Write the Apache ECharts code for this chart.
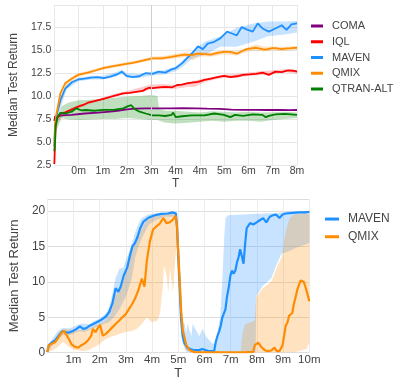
<!DOCTYPE html>
<html>
<head>
<meta charset="utf-8">
<script src="https://cdn.jsdelivr.net/npm/echarts@6/dist/echarts.min.js"></script>
<style>
html,body{margin:0;padding:0;background:#fff;}
#chart{width:397px;height:381px;}
</style>
</head>
<body>
<div id="chart"></div>
<script>
// ---------- tick labels ----------
const topTickLabels = ['', '0m', '1m', '2m', '3m', '4m', '4m', '5m', '6m', '7m', '8m'];
const botTickLabels = ['', '1m', '2m', '3m', '4m', '5m', '6m', '7m', '8m', '9m', '10m'];
const topLegend = ['COMA', 'IQL', 'MAVEN', 'QMIX', 'QTRAN-ALT'];
const botLegend = ['MAVEN', 'QMIX'];

// ---------- top chart: median lines [x, y] ----------
const comaTop = [[0,7.3],[0.03,7.75],[0.1,7.85],[0.3,7.9],[0.7,7.95],[1.25,8.1],[1.8,8.2],[2.3,8.3],[2.6,8.4],[3.0,8.55],[3.3,8.62],[3.8,8.65],[4.3,8.66],[4.8,8.66],[5.3,8.68],[5.8,8.65],[6.3,8.62],[6.8,8.6],[7.3,8.52],[7.8,8.5],[8.3,8.5],[8.8,8.48],[9.3,8.5],[9.7,8.47],[10,8.48]];
const iqlTop = [[0,2.6],[0.05,6.66],[0.12,7.57],[0.25,8.1],[0.45,8.23],[0.72,8.55],[0.98,8.84],[1.25,9.1],[1.38,9.27],[1.65,9.45],[1.9,9.6],[2.1,9.75],[2.31,9.9],[2.58,10.1],[2.84,10.3],[3.1,10.35],[3.37,10.45],[3.64,10.55],[3.77,10.75],[3.9,10.9],[4.04,10.85],[4.3,10.95],[4.57,11.0],[4.86,10.95],[5.06,11.2],[5.26,11.25],[5.46,11.38],[5.66,11.45],[5.92,11.55],[6.19,11.75],[6.45,11.9],[6.72,12.05],[6.99,12.2],[7.25,12.05],[7.52,12.15],[7.78,12.3],[8.05,12.35],[8.31,12.4],[8.58,12.55],[8.84,12.3],[9.11,12.65],[9.37,12.6],[9.63,12.8],[9.85,12.75],[10,12.65]];
const mavenTop = [[0,4.5],[0.03,6.8],[0.08,7.6],[0.12,8.2],[0.25,9.57],[0.45,10.8],[0.72,11.5],[0.98,11.8],[1.25,11.9],[1.51,12.0],[1.78,12.05],[2.04,11.95],[2.31,12.1],[2.58,12.35],[2.78,12.65],[2.97,12.2],[3.24,12.05],[3.5,12.15],[3.77,12.5],[4.04,12.4],[4.3,12.65],[4.57,12.55],[4.83,12.9],[4.98,13.0],[5.06,12.8],[5.26,13.55],[5.46,14.1],[5.66,14.6],[5.92,15.4],[6.12,15.1],[6.32,15.7],[6.59,15.9],[6.85,16.3],[7.12,17.0],[7.32,16.8],[7.52,16.6],[7.72,17.5],[7.92,17.25],[8.18,17.0],[8.38,17.9],[8.58,17.35],[8.84,17.0],[9.11,17.35],[9.37,17.7],[9.57,17.2],[9.77,17.8],[10,17.9]];
const qmixTop = [[0,4.5],[0.03,7.0],[0.08,8.0],[0.12,8.5],[0.25,10.3],[0.45,11.4],[0.72,11.9],[0.98,12.3],[1.38,12.55],[1.65,12.75],[2.05,13.05],[2.44,13.25],[2.84,13.45],[3.24,13.6],[3.64,13.85],[4.04,14.1],[4.43,14.1],[4.83,14.25],[5.1,14.4],[5.39,14.5],[5.66,14.45],[5.92,14.6],[6.19,14.55],[6.45,14.5],[6.72,14.7],[6.99,14.8],[7.25,14.8],[7.52,14.6],[7.78,14.95],[7.92,15.1],[8.18,15.2],[8.31,15.25],[8.58,15.1],[8.71,15.05],[8.98,15.2],[9.11,15.2],[9.37,15.1],[9.5,15.15],[9.77,15.2],[10,15.25]];
const qtranTop = [[0,4.0],[0.03,5.0],[0.05,6.66],[0.12,7.7],[0.25,8.18],[0.45,8.1],[0.72,8.3],[0.9,8.66],[1.1,8.45],[1.3,8.48],[1.65,8.4],[2.05,8.5],[2.44,8.5],[2.84,8.66],[3.04,8.9],[3.17,9.0],[3.3,8.6],[3.51,8.3],[3.77,8.1],[4.04,7.9],[4.3,7.9],[4.57,7.83],[4.83,7.95],[4.9,8.2],[5.0,7.7],[5.26,7.8],[5.66,7.9],[6.19,7.9],[6.59,8.1],[6.99,7.95],[7.25,7.7],[7.45,7.95],[7.78,7.85],[8.18,8.0],[8.58,7.95],[8.71,7.7],[8.84,7.85],[9.11,8.0],[9.5,8.05],[10,7.95]];

// ---------- top chart: bands [x, low, high] ----------
const iqlTopBand = [[0.1,7.2,7.9],[0.5,8.1,8.4],[1.0,8.7,9.0],[1.5,9.2,9.4],[2.0,9.6,9.85],[2.5,10.0,10.25],[3.0,10.2,10.55],[3.5,10.4,10.9],[4.0,10.7,11.25],[4.5,10.8,11.3],[5.0,10.8,11.2],[5.5,11.0,11.5],[5.8,11.0,11.7],[6.2,11.5,11.9],[6.6,11.8,12.1],[7.0,12.0,12.35],[7.5,12.0,12.4],[8.0,12.2,12.55],[8.5,12.3,12.7],[9.0,12.4,12.8],[9.5,12.6,12.9],[10,12.45,12.8]];
const mavenTopBand = [[0.1,7.3,8.4],[0.5,10.7,11.2],[1.0,11.6,12.0],[1.5,11.8,12.2],[2.0,11.8,12.2],[2.5,12.1,12.55],[2.8,12.4,12.85],[3.0,12.0,12.45],[3.5,11.95,12.4],[4.0,12.2,12.65],[4.5,12.35,12.8],[5.0,12.7,13.2],[5.3,13.2,13.9],[5.7,14.1,14.9],[6.2,14.5,15.9],[6.85,15.4,16.5],[7.5,15.35,17.4],[8.2,15.9,17.9],[8.8,16.5,18.1],[9.5,16.7,18.1],[10,16.9,18.15]];
const qmixTopBand = [[0.1,7.8,8.8],[0.5,11.1,11.6],[1.0,12.1,12.5],[1.5,12.45,12.8],[2.0,12.85,13.2],[2.5,13.1,13.45],[3.0,13.35,13.7],[3.5,13.6,13.95],[4.0,13.9,14.3],[4.5,13.95,14.35],[5.0,14.1,14.6],[5.4,14.25,14.75],[5.7,13.9,14.7],[6.0,14.3,14.8],[6.5,14.3,14.75],[7.0,14.55,15.0],[7.5,14.4,14.85],[8.0,14.85,15.3],[8.3,14.95,15.6],[8.6,14.85,15.4],[9.0,14.95,15.4],[9.5,14.9,15.35],[10,15.0,15.45]];
const qtranTopBand = [[0.05,6.0,7.0],[0.3,7.6,8.9],[0.6,7.45,9.3],[1.0,7.4,9.55],[1.5,7.45,9.6],[2.0,7.5,9.7],[2.5,7.5,9.8],[3.0,7.6,9.95],[3.5,7.5,10.0],[4.0,7.4,10.1],[4.25,7.4,10.0],[4.32,7.3,8.6],[4.6,7.1,8.4],[5.0,7.0,8.4],[5.5,7.1,8.3],[6.0,7.2,8.2],[6.5,7.3,8.35],[7.0,7.2,8.3],[7.5,7.3,8.2],[8.0,7.3,8.3],[8.5,7.2,8.2],[9.0,7.4,8.25],[9.5,7.5,8.3],[10,7.6,8.2]];

// ---------- bottom chart: median lines [x, y] ----------
const mavenBot = [[0,0.1],[0.06,1.05],[0.19,1.5],[0.31,1.75],[0.44,2.4],[0.56,3.0],[0.69,2.9],[0.81,2.8],[1.0,3.1],[1.12,3.35],[1.25,3.7],[1.37,3.35],[1.49,3.45],[1.62,3.8],[1.74,4.0],[1.87,4.25],[2.05,4.6],[2.24,5.1],[2.36,5.7],[2.49,7.0],[2.61,9.1],[2.71,8.6],[2.8,9.3],[2.92,10.9],[3.05,12.0],[3.15,13.6],[3.25,15.0],[3.35,15.5],[3.45,16.4],[3.55,17.6],[3.67,18.5],[3.86,19.05],[4.11,19.4],[4.35,19.6],[4.6,19.65],[4.79,19.8],[4.91,19.65],[4.95,17.85],[4.99,14.6],[5.05,9.6],[5.11,4.5],[5.17,2.25],[5.24,1.3],[5.36,0.63],[5.55,0.4],[5.8,0.35],[5.92,0.5],[6.17,0.2],[6.37,0.2],[6.43,1.5],[6.5,2.4],[6.56,3.0],[6.62,3.8],[6.68,4.95],[6.74,5.2],[6.8,6.1],[6.86,7.9],[6.93,9.3],[6.99,10.9],[7.05,11.6],[7.11,11.15],[7.18,11.6],[7.24,12.75],[7.3,13.45],[7.36,14.6],[7.42,13.7],[7.49,12.55],[7.55,15.3],[7.61,17.6],[7.74,18.3],[7.86,18.1],[7.99,18.4],[8.11,18.7],[8.24,19.0],[8.36,18.4],[8.49,19.2],[8.61,19.4],[8.73,19.5],[8.86,19.0],[8.98,19.5],[9.1,19.65],[9.35,19.75],[9.6,19.8],[9.85,19.8],[10,19.9]];
const qmixBot = [[0,0.1],[0.06,1.05],[0.19,1.3],[0.31,1.5],[0.44,2.2],[0.56,2.9],[0.65,3.0],[0.75,2.4],[0.85,1.75],[0.93,1.15],[1.06,0.8],[1.18,0.7],[1.31,1.05],[1.43,1.3],[1.56,1.75],[1.68,2.4],[1.74,3.35],[1.84,2.9],[1.93,3.45],[2.02,3.9],[2.12,2.4],[2.24,2.65],[2.36,3.1],[2.49,3.6],[2.61,4.05],[2.74,4.5],[2.86,4.95],[2.99,5.4],[3.11,6.1],[3.23,6.8],[3.36,7.7],[3.48,8.85],[3.61,10.45],[3.71,9.3],[3.8,13.0],[3.92,15.75],[4.04,17.4],[4.17,17.85],[4.29,18.2],[4.43,19.0],[4.55,18.3],[4.67,18.4],[4.8,18.8],[4.9,19.3],[4.95,17.85],[5.05,10.5],[5.11,5.9],[5.17,3.2],[5.3,1.1],[5.42,0.4],[5.6,0.08],[6.5,0.05],[7.5,0.05],[7.86,0.1],[7.92,1.05],[8.05,1.4],[8.17,0.8],[8.3,0.35],[8.42,0.2],[8.55,0.3],[8.67,0.7],[8.76,0.2],[8.86,0.2],[8.98,1.05],[9.04,2.4],[9.1,3.8],[9.17,4.3],[9.23,5.2],[9.29,5.4],[9.35,5.6],[9.42,7.0],[9.48,7.9],[9.54,8.85],[9.6,9.5],[9.67,10.2],[9.73,10.3],[9.79,10.0],[9.85,9.3],[9.92,8.4],[10,7.25]];

// ---------- bottom chart: bands [x, low, high] ----------
const mavenBotBand = [[0,0,0.3],[0.2,1.0,2.0],[0.4,1.8,3.0],[0.6,2.5,3.5],[0.8,2.4,3.4],[1.0,2.7,3.6],[1.2,3.0,4.0],[1.4,2.9,4.1],[1.6,3.2,4.0],[1.8,3.5,4.5],[2.0,3.8,4.8],[2.2,4.1,5.4],[2.35,4.3,6.2],[2.5,4.8,8.5],[2.6,5.3,10.5],[2.75,6.1,11.8],[2.9,7.2,12.0],[3.0,7.9,13.0],[3.1,9.0,14.0],[3.23,10.5,15.5],[3.36,13.5,17.0],[3.48,15.0,18.2],[3.61,16.2,19.0],[3.86,18.0,19.5],[4.11,18.7,19.7],[4.48,19.2,19.8],[4.85,19.2,19.9],[4.92,19.0,19.9],[4.97,14.0,18.5],[5.05,8.0,12.0],[5.15,1.5,4.5],[5.25,0.5,4.0],[5.3,0.2,2.7],[5.36,0.1,4.1],[5.42,0,3.2],[5.5,0,2.3],[5.55,0,4.1],[5.67,0,3.2],[5.8,0,2.3],[5.92,0,3.4],[6.05,0,2.3],[6.17,0,1.8],[6.3,0,1.3],[6.42,0,1.3],[6.5,0,3.0],[6.6,0,5.0],[6.68,0,10.0],[6.75,0,16.0],[6.8,0,19.0],[6.9,0,19.4],[7.5,0,19.5],[7.95,0,19.6],[7.98,8.0,19.6],[8.2,9.3,19.6],[8.4,10.0,19.7],[8.55,10.5,19.7],[8.75,12.4,19.7],[8.87,13.4,19.8],[8.95,14.0,19.8],[9.2,14.3,19.9],[9.5,14.8,19.9],[9.8,15.2,20.0],[10,15.5,20.0]];
const qmixBotBand = [[0,0,0.2],[0.2,0.3,1.5],[0.4,0.8,2.6],[0.6,1.5,3.3],[0.8,0.9,3.3],[1.0,0.4,3.2],[1.2,0.3,3.2],[1.4,0.2,3.2],[1.6,0.4,3.4],[1.8,0.8,3.8],[2.0,1.2,4.0],[2.2,1.8,4.5],[2.4,2.2,5.3],[2.6,2.4,8.0],[2.8,2.7,9.0],[3.0,2.9,11.0],[3.2,3.0,14.0],[3.4,3.3,16.0],[3.6,4.0,17.5],[3.8,5.0,18.7],[3.98,4.3,19.2],[4.2,4.5,19.4],[4.3,5.5,19.5],[4.4,9.0,19.6],[4.45,12.3,19.6],[4.55,11.0,19.65],[4.62,8.5,19.7],[4.68,12.0,19.7],[4.75,10.0,19.7],[4.8,8.5,19.7],[4.88,13.0,19.7],[4.93,15.0,19.7],[4.96,12.0,18.5],[5.05,7.0,12.0],[5.15,2.0,4.5],[5.3,0.3,1.3],[5.5,0,0.3],[7.38,0,0.1],[7.45,0,2.8],[7.55,0,4.0],[7.75,0,4.3],[7.92,0,4.5],[7.97,0,7.8],[8.2,0,9.0],[8.4,0,9.6],[8.55,0,10.0],[8.75,0,11.9],[8.87,0,12.9],[8.95,0,13.5],[9.05,0,16.0],[9.12,0,17.4],[9.25,0,19.0],[9.4,0,19.5],[9.9,0.5,19.6],[10,1.5,19.6]];

// ---------- styling ----------
const FONT = '"Liberation Sans", Arial, sans-serif';
const C = {coma:'#800080', iql:'#ff0000', maven:'#1e90ff', qmix:'#ff8c00', qtran:'#008000'};
const TXT = '#444';

function bandSeries(tr, fill, gi) {
  const poly = tr.map(t => [t[0], t[2]]).concat(tr.slice().reverse().map(t => [t[0], t[1]]));
  return {
    type: 'custom', xAxisIndex: gi, yAxisIndex: gi, silent: true, z: 1, clip: true,
    data: [[tr[0][0], tr[0][1]]],
    renderItem: (params, api) => ({
      type: 'polygon',
      shape: { points: poly.map(p => api.coord(p)) },
      style: { fill: fill }
    })
  };
}
function lineSeries(name, data, color, width, gi) {
  return {
    name, type: 'line', xAxisIndex: gi, yAxisIndex: gi, data,
    showSymbol: false, symbol: 'none', silent: true, z: 3,
    lineStyle: { color, width }, itemStyle: { color }
  };
}
function xAxisCfg(gi, labels, fs, margin, nameGap, nameFs, gridColor) {
  return {
    gridIndex: gi, type: 'value', min: 0, max: 10, interval: 1,
    axisLine: { show: false }, axisTick: { show: false },
    axisLabel: { formatter: v => labels[Math.round(v)] || '', fontSize: fs, color: TXT, margin, fontFamily: FONT },
    splitLine: { show: true, lineStyle: { color: gridColor, width: 1 } },
    name: 'T', nameLocation: 'middle', nameGap,
    nameTextStyle: { fontSize: nameFs, color: TXT, fontFamily: FONT }
  };
}

const option = {
  animation: false,
  backgroundColor: '#fff',
  textStyle: { fontFamily: FONT },
  grid: [
    { left: 46, top: 5, width: 251, height: 160 },
    { left: 41.3, top: 199, width: 268, height: 157.3 }
  ],
  xAxis: [
    xAxisCfg(0, topTickLabels, 10.5, 1, 12, 12, '#e8e8e8'),
    xAxisCfg(1, botTickLabels, 11.5, 1.5, 13, 13, '#ececec')
  ],
  yAxis: [
    {
      gridIndex: 0, type: 'value', min: 2.5, max: 19.9, interval: 2.5,
      axisLine: { show: false }, axisTick: { show: false },
      axisLabel: { formatter: v => v.toFixed(1), showMaxLabel: false, fontSize: 10.5, color: TXT, margin: 3, fontFamily: FONT },
      splitLine: { show: true, lineStyle: { color: '#e6e6e6' } },
      name: 'Median Test Return', nameLocation: 'middle', nameGap: 24,
      nameTextStyle: { fontSize: 12, color: TXT, fontFamily: FONT }
    },
    {
      gridIndex: 1, type: 'value', min: 0, max: 21.7, interval: 5,
      axisLine: { show: false }, axisTick: { show: false },
      axisLabel: { showMaxLabel: false, fontSize: 12, color: TXT, margin: 2, fontFamily: FONT },
      splitLine: { show: true, lineStyle: { color: '#dedede' } },
      name: 'Median Test Return', nameLocation: 'middle', nameGap: 16,
      nameTextStyle: { fontSize: 13, color: TXT, fontFamily: FONT }
    }
  ],
  legend: [
    {
      orient: 'vertical', left: 306, top: 14.5, itemWidth: 12, itemHeight: 3, itemGap: 2.75,
      icon: 'rect', selectedMode: false, data: topLegend,
      textStyle: { fontSize: 11, lineHeight: 13, color: TXT, fontFamily: FONT, padding: [0, 0, 0, 4] }
    },
    {
      orient: 'vertical', left: 320, top: 206.8, itemWidth: 14, itemHeight: 3, itemGap: 3.2,
      icon: 'rect', selectedMode: false, data: botLegend,
      textStyle: { fontSize: 12, lineHeight: 14.5, color: TXT, fontFamily: FONT, padding: [0, 0, 0, 4] }
    }
  ],
  series: [
    // darker reference line at "3m"
    {
      type: 'line', xAxisIndex: 0, yAxisIndex: 0, data: [], z: 0, silent: true,
      markLine: { silent: true, symbol: 'none', label: { show: false }, animation: false,
        lineStyle: { color: '#cdcdcd', width: 1, type: 'solid' }, data: [{ xAxis: 4 }] }
    },
    bandSeries(iqlTopBand, 'rgba(255,0,0,0.2)', 0),
    bandSeries(mavenTopBand, 'rgba(30,144,255,0.25)', 0),
    bandSeries(qmixTopBand, 'rgba(255,140,0,0.25)', 0),
    bandSeries(qtranTopBand, 'rgba(0,128,0,0.25)', 0),
    lineSeries('COMA', comaTop, C.coma, 1.8, 0),
    lineSeries('IQL', iqlTop, C.iql, 1.8, 0),
    lineSeries('MAVEN', mavenTop, C.maven, 1.8, 0),
    lineSeries('QMIX', qmixTop, C.qmix, 1.8, 0),
    lineSeries('QTRAN-ALT', qtranTop, C.qtran, 1.8, 0),
    bandSeries(mavenBotBand, 'rgba(30,144,255,0.25)', 1),
    bandSeries(qmixBotBand, 'rgba(255,140,0,0.25)', 1),
    lineSeries('MAVEN', mavenBot, C.maven, 2.2, 1),
    lineSeries('QMIX', qmixBot, C.qmix, 2.2, 1)
  ]
};

const chart = echarts.init(document.getElementById('chart'), null, { renderer: 'canvas' });
chart.setOption(option);
</script>
</body>
</html>
